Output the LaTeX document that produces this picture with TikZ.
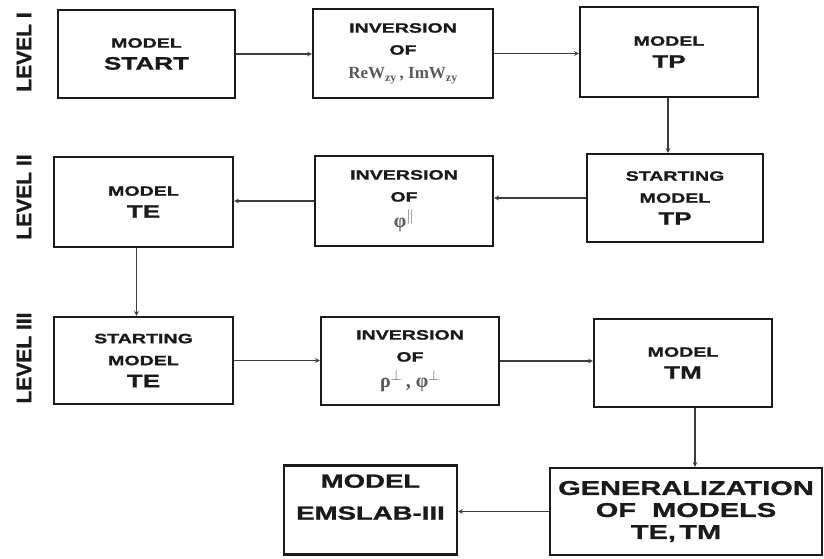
\documentclass[tikz,border=0pt]{standalone}
\usepackage{fontspec}
\newfontfamily\boxfont[FakeStretch=1.45, BoldFeatures={FakeBold=1.2}]{Liberation Sans}
\newfontfamily\lvlfont[BoldFeatures={FakeBold=1.2}]{Liberation Sans}
\newfontfamily\symfont{Liberation Serif}
\definecolor{ink}{HTML}{1A1A1A}
\definecolor{symgray}{HTML}{5A5A5A}
\newcommand\capsfont{\boxfont\bfseries\fontsize{13.5}{22}\selectfont}
\newcommand\bigfont{\boxfont\bfseries\fontsize{18}{22}\selectfont}
\newcommand\genfont{\boxfont\bfseries\fontsize{20}{22}\selectfont}
\newcommand\symbfont{\color{symgray}\symfont\fontsize{17}{22}\selectfont}
\newcommand\greekfont{\color{symgray}\symfont\fontsize{20}{22}\selectfont}

\begin{document}
\begin{tikzpicture}[>=stealth, x=1pt, y=-1pt,
    box/.style={draw=ink, line width=2.4pt, text=ink, align=center,
      minimum width=178pt, minimum height=88pt, inner sep=2pt, font=\capsfont},
    flow/.style={->, line width=1.1pt, draw=ink!85},
    level/.style={rotate=90, text=ink,
      font=\lvlfont\bfseries\fontsize{21}{21}\selectfont}]

    \useasboundingbox (0,0) rectangle (824,558);

    % level I
    \node [level] (lvlI) at (24,52) {LEVEL I};
    \node [box, minimum width=177pt] (start) at (146.5,54) {MODEL\\ {\bigfont START}};
    \node [box, minimum width=180pt, minimum height=89pt] (invW) at (403,53.5)
        {INVERSION\\ OF\\[2pt] {\symbfont\bfseries ReW\textsubscript{zy}\,, ImW\textsubscript{zy}}};
    \node [box, minimum height=90pt] (tp) at (669,52) {MODEL\\ {\bigfont TP}};

    % level II
    \node [level] (lvlII) at (24,197) {LEVEL II};
    \node [box, minimum width=176pt] (tpstart) at (675,198) {STARTING\\ MODEL\\ {\bigfont TP}};
    \node [box, minimum height=90pt] (invPhi) at (404,201) {INVERSION\\ OF\\[4pt] {\greekfont φ\textsuperscript{$\parallel$}}};
    \node [box, minimum width=179pt, minimum height=90pt] (te) at (143.5,202) {MODEL\\ {\bigfont TE}};

    % level III
    \node [level] (lvlIII) at (24,358) {LEVEL III};
    \node [box, minimum width=179pt, minimum height=87pt] (testart) at (143.5,360.5) {STARTING\\ MODEL\\ {\bigfont TE}};
    \node [box] (invRho) at (410,361) {INVERSION\\ OF\\[4pt] {\greekfont ρ\textsuperscript{$\perp$}\,, φ\textsuperscript{$\perp$}}};
    \node [box] (tm) at (683,363) {MODEL\\ {\bigfont TM}};

    % final models
    \node [box, minimum width=272pt, minimum height=87pt, inner sep=1pt, font=\genfont] (gen) at (686,511.5)
        {GENERALIZATION\\ OF\ \ MODELS\hspace*{62pt}\\ TE,\,TM\hspace*{20pt}};
    \node [box, minimum width=173pt, minimum height=89pt,
        font=\boxfont\bfseries\fontsize{19}{32}\selectfont] (emslab) at (370.5,510)
        {MODEL\\ EMSLAB-III\\[-6pt]};

    % arrows
    \draw [flow] (start.east) -- (start.east -| invW.west);
    \draw [flow] (invW.east) -- (invW.east -| tp.west);
    \draw [flow] ([xshift=-1pt]tp.south) -- ([xshift=-1pt]tp.south |- tpstart.north);
    \draw [flow] (tpstart.west) -- (tpstart.west -| invPhi.east);
    \draw [flow] (invPhi.west) -- (invPhi.west -| te.east);
    \draw [flow] ([xshift=-7pt]te.south) -- ([xshift=-7pt]te.south |- testart.north);
    \draw [flow] (testart.east) -- (testart.east -| invRho.west);
    \draw [flow] (invRho.east) -- (invRho.east -| tm.west);
    \draw [flow] ([xshift=12pt]tm.south) -- ([xshift=12pt]tm.south |- gen.north);
    \draw [flow] (gen.west) -- (gen.west -| emslab.east);

\end{tikzpicture}
\end{document}
